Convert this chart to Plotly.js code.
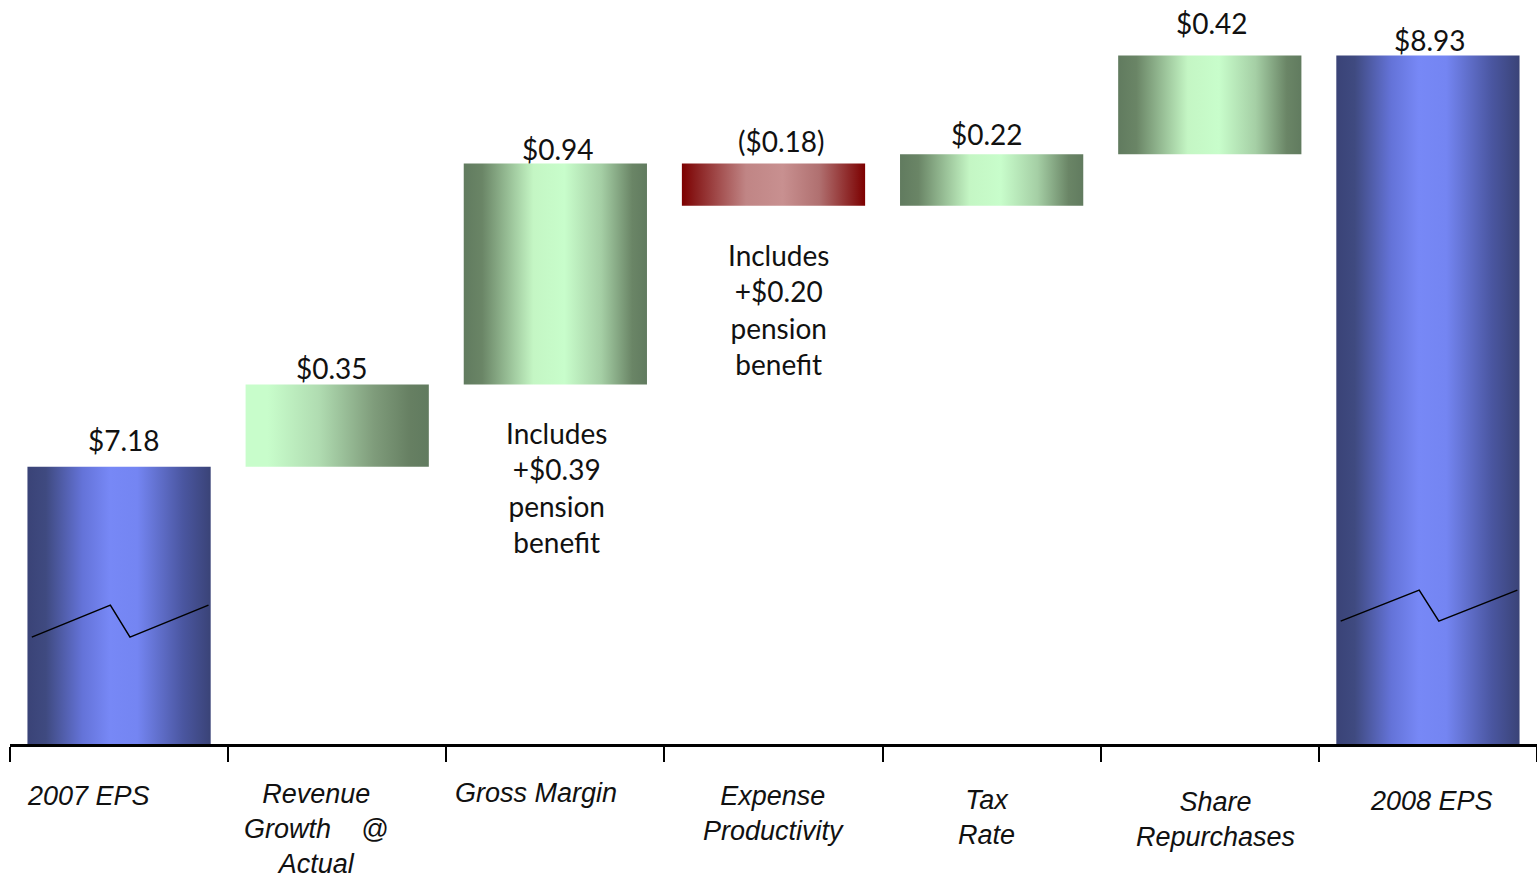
<!DOCTYPE html>
<html><head><meta charset="utf-8">
<script src="https://cdn.plot.ly/plotly-3.0.1.min.js"></script>
<style>html,body{margin:0;padding:0;background:#fff;overflow:hidden}#chart{width:1537px;height:885px}</style>
</head><body><div id="chart"></div>
<script>
// ---------- data ----------
const categories = ["2007 EPS","Revenue Growth @ Actual","Gross Margin","Expense Productivity","Tax Rate","Share Repurchases","2008 EPS"];
const categoryLabels = ["2007 EPS","Revenue<br>Growth\u00a0\u00a0\u00a0\u00a0@<br>Actual","Gross Margin","Expense<br>Productivity","Tax<br>Rate","Share<br>Repurchases","2008 EPS"];
const measures = ["absolute","relative","relative","relative","relative","relative","total"];
const values = [7.18, 0.35, 0.94, -0.18, 0.22, 0.42, 8.93];
const notes = [null, null, "Includes<br>+$0.39<br>pension<br>benefit", "Includes<br>+$0.20<br>pension<br>benefit", null, null, null];

// ---------- style / layout tweaks ----------
const fillIds = ["gBlue","gGreenL","gGreen","gRed","gGreen","gGreen","gBlue"];
const valueLift = [27, 16, 15, 23, 20, 32, 15];      // px above bar top (label centre)
const valueShiftX = [5, -5, 3, 8, -5, 2, 2];
const catShiftX = [-31, -21, -19, 0, -5, 6, 4];
const catShiftY = [-35, -33, -32, -35, -39, -41, -40];
const noteShift = [0, 0, 1, 5, 0, 0, 0];
const breakLevels = {0: [6.455, 6.591], 6: [6.523, 6.655]};
const breakXs = [-0.40, -0.04, 0.05, 0.41];

// running totals
const tops = [], bottoms = [];
let run = 0;
values.forEach((v, i) => {
  let a, b;
  if (measures[i] === "absolute") { a = 0; b = v; run = v; }
  else if (measures[i] === "total") { a = 0; b = run; }
  else { a = run; b = run + v; run = b; }
  tops.push(Math.max(a, b)); bottoms.push(Math.min(a, b));
});
const fmt = v => v < 0 ? "($" + Math.abs(v).toFixed(2) + ")" : "$" + v.toFixed(2);

const trace = {
  type: "waterfall",
  x: categories,
  y: values,
  measure: measures,
  connector: {visible: false},
  increasing: {marker: {color: "#a8d8a8", line: {width: 0}}},
  decreasing: {marker: {color: "#b06060", line: {width: 0}}},
  totals: {marker: {color: "#6070d0", line: {width: 0}}},
  hoverinfo: "skip",
  textposition: "none"
};

const annotations = [];
const numFont = {family: "Lato, 'DejaVu Sans', sans-serif", size: 28, color: "#111"};
const catFont = {family: "'Liberation Sans Narrow', 'Liberation Sans', Lato, sans-serif", size: 27, color: "#111"};
categories.forEach((c, i) => {
  annotations.push({xref: "x", yref: "y", x: i, y: tops[i], text: fmt(i === 6 ? tops[i] : values[i]),
    showarrow: false, yanchor: "middle", xanchor: "center", yshift: valueLift[i], xshift: valueShiftX[i], font: numFont});
  annotations.push({xref: "x", yref: "paper", x: i, y: 0, text: "<i>" + categoryLabels[i] + "</i>",
    showarrow: false, yanchor: "top", xanchor: "center", yshift: catShiftY[i], xshift: catShiftX[i], font: catFont, align: "center"});
  if (notes[i]) {
    annotations.push({xref: "x", yref: "y", x: i, y: bottoms[i], text: notes[i], showarrow: false,
      yanchor: "top", xanchor: "center", yshift: -30, xshift: noteShift[i], font: numFont, align: "center"});
  }
});

const shapes = Object.keys(breakLevels).map(k => {
  const i = +k, lv = breakLevels[k];
  const pts = [[breakXs[0], lv[0]], [breakXs[1], lv[1]], [breakXs[2], lv[0]], [breakXs[3], lv[1]]];
  return {type: "path", xref: "x", yref: "y", layer: "above",
    path: pts.map((p, j) => (j ? "L" : "M") + (i + p[0]) + "," + p[1]).join(" "),
    line: {color: "#000", width: 1.5}};
});

const layout = {
  width: 1537, height: 885,
  margin: {l: 10, r: 0, t: 39, b: 141},
  paper_bgcolor: "#fff", plot_bgcolor: "#fff",
  showlegend: false,
  waterfallgap: 0.16,
  xaxis: {type: "category", showline: true, linecolor: "#000", linewidth: 2.5, ticks: "outside",
    tickson: "boundaries", ticklen: 15, tickwidth: 2, tickcolor: "#000", showticklabels: false,
    showgrid: false, zeroline: false, fixedrange: true},
  yaxis: {visible: false, range: [6, 9], showgrid: false, zeroline: false, fixedrange: true},
  annotations: annotations,
  shapes: shapes
};

function addGradients(gd) {
  const NS = "http://www.w3.org/2000/svg";
  const defs = gd.querySelector("svg.main-svg defs");
  const grads = {
    gBlue: [[0, "#3a4377"], [0.1, "#3f4a80"], [0.3, "#6473d8"], [0.45, "#7788f6"], [0.6, "#7485f2"], [0.85, "#4a56a0"], [1, "#3a4377"]],
    gGreen: [[0, "#617b5f"], [0.1, "#6a8566"], [0.38, "#c4f6c4"], [0.55, "#c8fdcb"], [0.75, "#a5cfa5"], [0.92, "#6a8566"], [1, "#617b5f"]],
    gGreenL: [[0, "#c8fdcb"], [0.12, "#c8fdcb"], [0.4, "#b0dcb1"], [0.7, "#7f9c7b"], [0.9, "#667f62"], [1, "#617b5f"]],
    gRed: [[0, "#7d0000"], [0.08, "#8a2020"], [0.35, "#c08585"], [0.55, "#c89090"], [0.75, "#b07070"], [0.93, "#8a2020"], [1, "#7d0000"]]
  };
  Object.keys(grads).forEach(id => {
    const g = document.createElementNS(NS, "linearGradient");
    g.setAttribute("id", id);
    g.setAttribute("x1", "0"); g.setAttribute("x2", "1"); g.setAttribute("y1", "0"); g.setAttribute("y2", "0");
    grads[id].forEach(s => {
      const st = document.createElementNS(NS, "stop");
      st.setAttribute("offset", s[0]); st.setAttribute("stop-color", s[1]);
      g.appendChild(st);
    });
    defs.appendChild(g);
  });
  const paths = gd.querySelectorAll(".cartesianlayer .point path");
  paths.forEach((p, i) => {
    if (fillIds[i]) { p.style.fill = "url(#" + fillIds[i] + ")"; p.style.fillOpacity = 1; }
  });
}

Plotly.newPlot("chart", [trace], layout, {staticPlot: true, displayModeBar: false}).then(addGradients);
</script>
</body></html>
